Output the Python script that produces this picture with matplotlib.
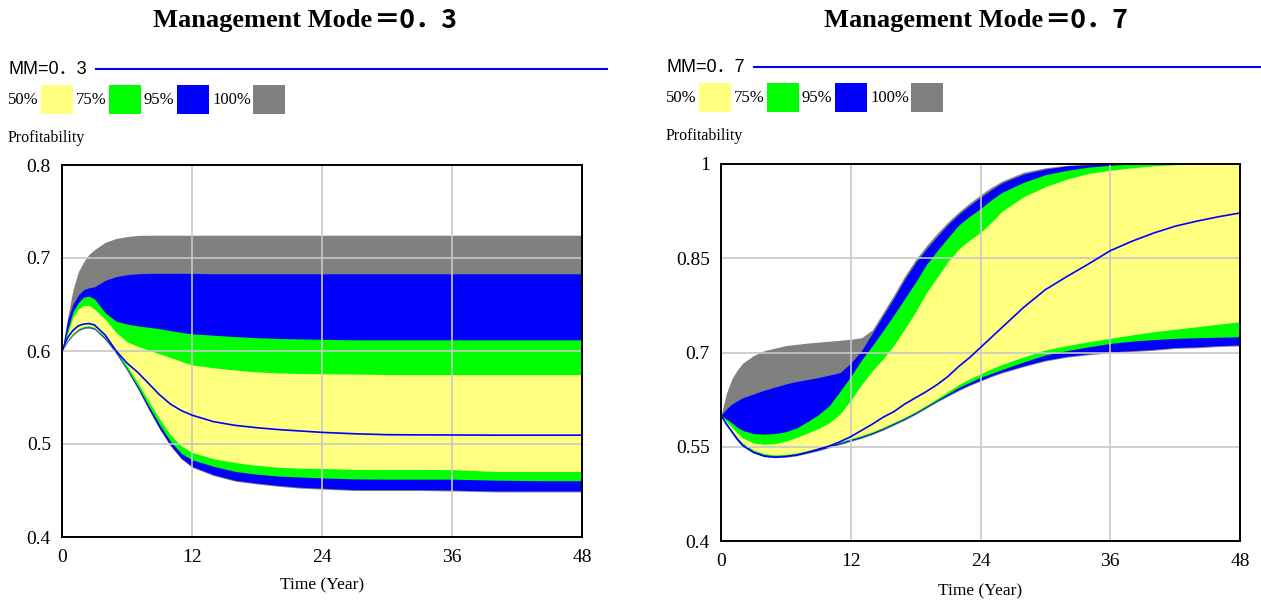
import matplotlib
matplotlib.use('Agg')
import matplotlib.pyplot as plt
from matplotlib.patches import Rectangle
from matplotlib.lines import Line2D

# ---------------- data ----------------
# left panel: Management Mode = 0.3
t_left = [0, 0.5, 1, 1.5, 2, 2.5, 3, 4, 5, 6, 7, 8, 9, 10, 11, 12, 14, 16, 18, 20,
          22, 24, 27, 30, 33, 36, 40, 44, 48]
left_max = [0.6, 0.635, 0.665, 0.685, 0.696, 0.704, 0.709, 0.717, 0.721, 0.723, 0.7243,
            0.7245, 0.7245, 0.7245, 0.7245, 0.7245, 0.7245, 0.7245, 0.7245, 0.7245,
            0.7245, 0.7245, 0.7245, 0.7245, 0.7245, 0.7245, 0.7245, 0.7245, 0.7245]
left_p975 = [0.6, 0.632, 0.65, 0.66, 0.666, 0.668, 0.669, 0.676, 0.68, 0.682, 0.683,
             0.6835, 0.6835, 0.6835, 0.6835, 0.6835, 0.683, 0.683, 0.683, 0.683,
             0.683, 0.683, 0.683, 0.683, 0.683, 0.683, 0.683, 0.683, 0.683]
left_p875 = [0.6, 0.622, 0.642, 0.652, 0.658, 0.659, 0.656, 0.641, 0.632, 0.629, 0.627,
             0.6255, 0.624, 0.622, 0.620, 0.6185, 0.617, 0.6155, 0.6143, 0.6135,
             0.613, 0.6125, 0.612, 0.612, 0.612, 0.612, 0.612, 0.612, 0.612]
left_p75 = [0.6, 0.618, 0.636, 0.645, 0.649, 0.649, 0.645, 0.634, 0.62, 0.61, 0.605,
            0.601, 0.597, 0.593, 0.589, 0.585, 0.582, 0.5795, 0.5775, 0.5765,
            0.5758, 0.5755, 0.5752, 0.5747, 0.5747, 0.5747, 0.5747, 0.5747, 0.5747]
left_base = [0.6, 0.614, 0.622, 0.627, 0.629, 0.6295, 0.628, 0.617, 0.6, 0.587, 0.577,
             0.565, 0.553, 0.543, 0.536, 0.531, 0.524, 0.52, 0.5175, 0.5155,
             0.514, 0.5125, 0.511, 0.510, 0.5098, 0.5097, 0.5095, 0.5095, 0.5095]
left_p25 = [0.6, 0.612, 0.619, 0.624, 0.6265, 0.627, 0.6255, 0.615, 0.6, 0.584, 0.566,
            0.546, 0.527, 0.51, 0.498, 0.491, 0.484, 0.48, 0.477, 0.475,
            0.474, 0.4738, 0.4726, 0.4726, 0.4726, 0.4725, 0.4705, 0.4704, 0.4704]
left_p125 = [0.6, 0.611, 0.618, 0.623, 0.6255, 0.626, 0.6245, 0.614, 0.599, 0.581, 0.562,
             0.541, 0.521, 0.503, 0.49, 0.483, 0.476, 0.4705, 0.4675, 0.4655,
             0.4645, 0.4635, 0.4625, 0.4622, 0.4622, 0.4622, 0.4611, 0.4605, 0.4605]
left_p025 = [0.6, 0.6105, 0.6175, 0.6225, 0.625, 0.6255, 0.624, 0.613, 0.598, 0.58, 0.56,
             0.538, 0.517, 0.499, 0.485, 0.476, 0.467, 0.461, 0.458, 0.4555,
             0.4535, 0.4525, 0.451, 0.451, 0.451, 0.4505, 0.4495, 0.4495, 0.4495]
left_min = [0.6, 0.6095, 0.6165, 0.6215, 0.624, 0.6245, 0.623, 0.612, 0.597, 0.579, 0.559,
            0.537, 0.516, 0.498, 0.484, 0.475, 0.466, 0.46, 0.457, 0.4545,
            0.4525, 0.4515, 0.45, 0.45, 0.45, 0.4495, 0.4485, 0.4485, 0.4485]

# right panel: Management Mode = 0.7
t_right = [0, 0.5, 1, 1.5, 2, 3, 4, 5, 6, 7, 8, 9, 10, 11, 12, 13, 14, 15, 16, 17,
           18, 19, 20, 21, 22, 23, 24, 25, 26, 28, 30, 32, 34, 36, 38, 40, 42, 44, 46, 48]
right_max = [0.6, 0.635, 0.658, 0.672, 0.683, 0.695, 0.703, 0.707, 0.711, 0.713,
             0.715, 0.7165, 0.718, 0.7195, 0.721, 0.7235, 0.736, 0.764, 0.792, 0.822,
             0.848, 0.87, 0.89, 0.908, 0.924, 0.938, 0.951, 0.963, 0.973, 0.987,
             0.994, 0.998, 1.0, 1.0, 1.0, 1.0, 1.0, 1.0, 1.0, 1.0]
right_p975 = [0.6, 0.61, 0.618, 0.623, 0.628, 0.634, 0.64, 0.645, 0.65, 0.654,
              0.657, 0.66, 0.664, 0.668, 0.683, 0.703, 0.731, 0.759, 0.787, 0.817,
              0.843, 0.865, 0.885, 0.904, 0.92, 0.934, 0.947, 0.959, 0.97, 0.984,
              0.992, 0.997, 0.999, 1.0, 1.0, 1.0, 1.0, 1.0, 1.0, 1.0]
right_p875 = [0.6, 0.594, 0.588, 0.581, 0.576, 0.571, 0.57, 0.571, 0.574, 0.58,
              0.59, 0.601, 0.615, 0.638, 0.662, 0.688, 0.711, 0.735, 0.76, 0.786,
              0.812, 0.84, 0.862, 0.883, 0.903, 0.917, 0.929, 0.943, 0.955, 0.971,
              0.983, 0.99, 0.995, 0.998, 1.0, 1.0, 1.0, 1.0, 1.0, 1.0]
right_p75 = [0.6, 0.59, 0.581, 0.572, 0.564, 0.556, 0.554, 0.555, 0.559, 0.565,
             0.572, 0.579, 0.588, 0.602, 0.624, 0.649, 0.671, 0.69, 0.712, 0.738,
             0.765, 0.795, 0.82, 0.845, 0.865, 0.879, 0.891, 0.907, 0.925, 0.948,
             0.964, 0.976, 0.985, 0.99, 0.994, 0.997, 0.999, 1.0, 1.0, 1.0]
right_base = [0.6, 0.586, 0.574, 0.562, 0.552, 0.541, 0.535, 0.5335, 0.5345, 0.537,
              0.541, 0.546, 0.551, 0.558, 0.566, 0.576, 0.586, 0.597, 0.606, 0.618,
              0.628, 0.638, 0.649, 0.662, 0.678, 0.692, 0.708, 0.724, 0.74, 0.772,
              0.80, 0.821, 0.841, 0.862, 0.877, 0.89, 0.901, 0.909, 0.916, 0.922]
right_p25 = [0.6, 0.588, 0.576, 0.565, 0.556, 0.545, 0.539, 0.537, 0.538, 0.54,
             0.544, 0.548, 0.553, 0.558, 0.563, 0.568, 0.574, 0.581, 0.589, 0.597,
             0.606, 0.616, 0.627, 0.638, 0.649, 0.658, 0.666, 0.674, 0.681, 0.693,
             0.704, 0.711, 0.717, 0.7225, 0.728, 0.733, 0.737, 0.741, 0.745, 0.749]
right_p125 = [0.6, 0.587, 0.575, 0.564, 0.554, 0.543, 0.537, 0.535, 0.536, 0.5385,
              0.5425, 0.5465, 0.5515, 0.5565, 0.5615, 0.5665, 0.5725, 0.5795, 0.5875, 0.5955,
              0.6045, 0.6145, 0.6245, 0.6345, 0.6445, 0.6525, 0.6605, 0.6665, 0.673, 0.685,
              0.696, 0.703, 0.709, 0.7145, 0.718, 0.7205, 0.7225, 0.7235, 0.7243, 0.725]
right_p025 = [0.6, 0.586, 0.574, 0.563, 0.553, 0.542, 0.536, 0.534, 0.535, 0.537,
              0.541, 0.545, 0.55, 0.555, 0.56, 0.565, 0.571, 0.578, 0.586, 0.594,
              0.603, 0.613, 0.623, 0.632, 0.641, 0.649, 0.656, 0.663, 0.669, 0.679,
              0.688, 0.694, 0.698, 0.701, 0.703, 0.705, 0.708, 0.709, 0.711, 0.712]
right_min = [0.6, 0.5845, 0.5725, 0.5615, 0.5515, 0.5405, 0.5345, 0.5325, 0.5335, 0.5355,
             0.5395, 0.5435, 0.5485, 0.5535, 0.5585, 0.5635, 0.5695, 0.5765, 0.5845, 0.5925,
             0.6015, 0.6115, 0.6215, 0.6305, 0.6395, 0.6475, 0.6545, 0.6615, 0.6675, 0.6775,
             0.6865, 0.6925, 0.6965, 0.6995, 0.7015, 0.7035, 0.7065, 0.7075, 0.7095, 0.7105]

x_ticks = [0, 12, 24, 36, 48]
left_yticks = [0.4, 0.5, 0.6, 0.7, 0.8]
left_ylabels = ['0.4', '0.5', '0.6', '0.7', '0.8']
right_yticks = [0.4, 0.55, 0.7, 0.85, 1.0]
right_ylabels = ['0.4', '0.55', '0.7', '0.85', '1']

title_head = 'Management Mode'
title_tails = ['＝0．3', '＝0．7']
run_names = ['MM=0．3', 'MM=0．7']
band_names = ['50%', '75%', '95%', '100%']
band_colors = ['#FFFF80', '#00FF00', '#0000FF', '#808080']

# ---------------- figure ----------------
plt.rcParams['font.family'] = 'Liberation Serif'
W, H = 1261, 602
fig = plt.figure(figsize=(W / 100, H / 100), dpi=100)

def px(x, y):
    return x / W, 1 - y / H

title_font = {'family': 'Liberation Serif', 'weight': 'bold', 'size': 19}
tail_font = {'family': ['Noto Sans CJK SC', 'DejaVu Sans'], 'weight': 'bold', 'size': 19}
run_font = {'family': ['Liberation Sans', 'Noto Sans CJK SC'], 'size': 13}


def draw_panel(ax, t, mn, p025, p125, p25, p75, p875, p975, mx, base,
               yticks, ylabels, ylim):
    ax.fill_between(t, mn, mx, color=band_colors[3], lw=0)
    ax.fill_between(t, p025, p975, color=band_colors[2], lw=0)
    ax.fill_between(t, p125, p875, color=band_colors[1], lw=0)
    ax.fill_between(t, p25, p75, color=band_colors[0], lw=0)
    ax.plot(t, base, color='#0000FF', lw=1.2, zorder=3)
    ax.set_xlim(0, 48)
    ax.set_ylim(*ylim)
    ax.set_xticks(x_ticks)
    ax.set_yticks(yticks, ylabels)
    ax.set_axisbelow(False)
    ax.grid(color='#C8C8C8', lw=1.2)
    ax.tick_params(length=0, labelsize=14)
    ax.tick_params(axis='x', pad=9)
    ax.tick_params(axis='y', pad=8)
    for s in ax.spines.values():
        s.set_linewidth(1.4)
        s.set_color('black')
        s.set_zorder(4)


ax1 = fig.add_axes([62 / W, 1 - 537 / H, 520 / W, 372 / H])
draw_panel(ax1, t_left, left_min, left_p025, left_p125, left_p25, left_p75,
           left_p875, left_p975, left_max, left_base, left_yticks, left_ylabels, (0.4, 0.8))

ax2 = fig.add_axes([721 / W, 1 - 541 / H, 519 / W, 377 / H])
draw_panel(ax2, t_right, right_min, right_p025, right_p125, right_p25, right_p75,
           right_p875, right_p975, right_max, right_base, right_yticks, right_ylabels, (0.4, 1.0))

# titles, legends and labels (Vensim style header above each graph)
panels = [
    {'dx': 0, 'dy': 0, 'title_split': 372, 'line_end': 607},
    {'dx': 658, 'dy': -2, 'title_split': 1043, 'line_end': 1261},
]
for k, p in enumerate(panels):
    dx, dy = p['dx'], p['dy']
    fig.text(*px(p['title_split'], 21), title_head, fontdict=title_font, ha='right', va='center')
    fig.text(*px(p['title_split'] + 1, 21), title_tails[k], fontdict=tail_font, ha='left', va='center')
    fig.text(*px(8 + dx, 70 + dy), run_names[k], fontdict=run_font, ha='left', va='center')
    x0, y0 = px(96 + dx, 69 + dy)
    x1, _ = px(p['line_end'], 0)
    fig.add_artist(Line2D([x0, x1], [y0, y0], color='#0000FF', lw=1.5, transform=fig.transFigure))
    text_x = [8, 76, 143, 212]
    box_x = [41, 109, 177, 253]
    for name, col, tx, bx in zip(band_names, band_colors, text_x, box_x):
        fig.text(*px(tx + dx, 100 + dy), name, fontsize=12, ha='left', va='center')
        bx0, by0 = px(bx + dx, 114 + dy)
        fig.add_artist(Rectangle((bx0, by0), 32 / W, 29 / H, facecolor=col,
                                 edgecolor='none', transform=fig.transFigure))
    fig.text(*px(8 + dx, 138 + dy), 'Profitability', fontsize=11.5, ha='left', va='center')

ax1.set_xlabel('Time (Year)', fontsize=12.5)
ax2.set_xlabel('Time (Year)', fontsize=12.5)
ax1.xaxis.set_label_coords(0.5, (537 - 577) / 372, transform=ax1.transAxes)
ax2.xaxis.set_label_coords(0.5, (541 - 583) / 377, transform=ax2.transAxes)

fig.savefig('out.png', dpi=100)
